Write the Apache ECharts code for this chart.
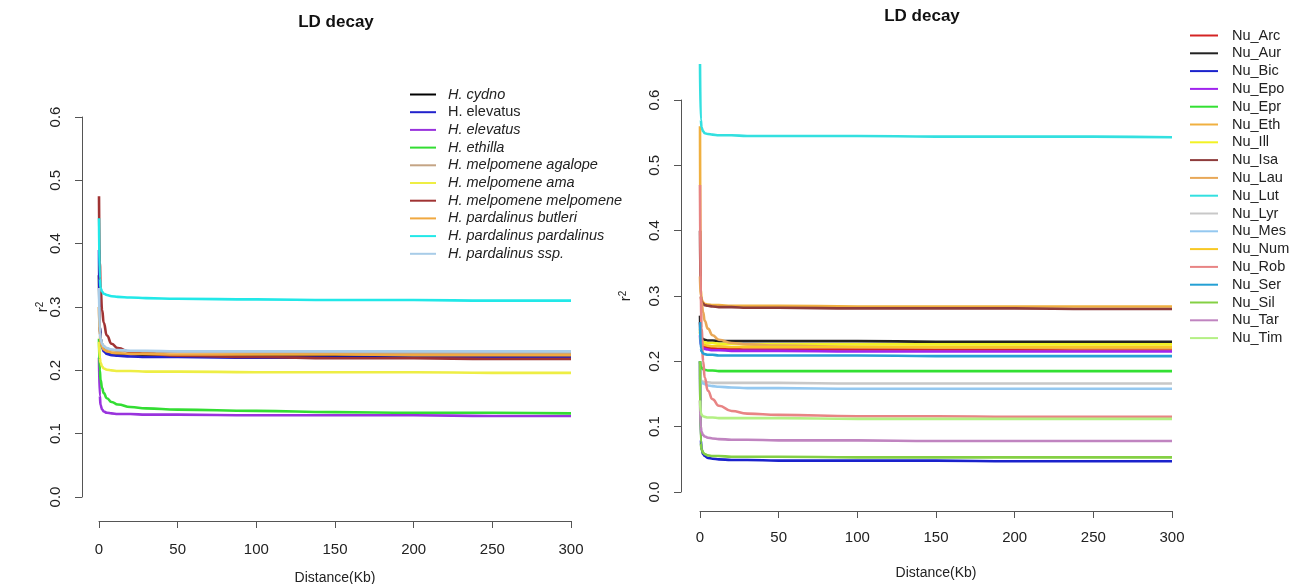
<!DOCTYPE html>
<html>
<head>
<meta charset="utf-8">
<title>LD decay</title>
<script src="https://cdn.jsdelivr.net/npm/echarts@6/dist/echarts.min.js"></script>
<style>
  html, body { margin: 0; padding: 0; background: #fff; }
  #chart { width: 1296px; height: 584px; }
</style>
</head>
<body>
<div id="chart"></div>
<script>
// distance in Kb (shared by every curve)
const distances = [0, 0.5, 1, 2, 3, 5, 8, 12, 20, 30, 50, 100, 150, 200, 250, 300]
const xTicks = [0, 50, 100, 150, 200, 250, 300]
const yTicks = [0.0, 0.1, 0.2, 0.3, 0.4, 0.5, 0.6]

// left panel: Heliconius species
const leftNames = ['H. cydno', 'H. elevatus', 'H. elevatus\u200b', 'H. ethilla', 'H. melpomene agalope',
  'H. melpomene ama', 'H. melpomene melpomene', 'H. pardalinus butleri', 'H. pardalinus pardalinus', 'H. pardalinus ssp.']
const leftItalic = [true, false, true, true, true, true, true, true, true, true]
const leftColors = ['#000000', '#2222cc', '#9933dd', '#33dd33', '#c4a484', '#eeee44', '#a03333', '#f0a840', '#22e8e8', '#a8cce8']
const cydno = [0.35, 0.27, 0.25, 0.238, 0.233, 0.229, 0.227, 0.226, 0.225, 0.224, 0.223, 0.222, 0.222, 0.221, 0.221, 0.221]
const elevatusBlue = [0.39, 0.27, 0.25, 0.236, 0.23, 0.226, 0.224, 0.223, 0.222, 0.221, 0.221, 0.22, 0.22, 0.22, 0.22, 0.22]
const elevatusPurple = [0.22, 0.16, 0.145, 0.138, 0.135, 0.133, 0.132, 0.131, 0.131, 0.13, 0.13, 0.129, 0.129, 0.129, 0.128, 0.128]
const ethilla = [0.25, 0.2, 0.185, 0.172, 0.164, 0.156, 0.15, 0.146, 0.142, 0.14, 0.138, 0.136, 0.134, 0.133, 0.133, 0.132]
const agalope = [0.3, 0.26, 0.25, 0.242, 0.238, 0.234, 0.232, 0.231, 0.23, 0.229, 0.229, 0.228, 0.228, 0.228, 0.228, 0.228]
const ama = [0.245, 0.22, 0.212, 0.206, 0.203, 0.201, 0.2, 0.199, 0.199, 0.198, 0.198, 0.197, 0.197, 0.197, 0.196, 0.196]
const melpomene = [0.475, 0.37, 0.33, 0.295, 0.275, 0.255, 0.242, 0.235, 0.229, 0.226, 0.223, 0.221, 0.219, 0.219, 0.218, 0.218]
const butleri = [0.3, 0.255, 0.245, 0.237, 0.233, 0.23, 0.228, 0.227, 0.226, 0.226, 0.225, 0.225, 0.225, 0.224, 0.224, 0.224]
const pardalinus = [0.44, 0.345, 0.33, 0.324, 0.321, 0.319, 0.317, 0.316, 0.315, 0.314, 0.313, 0.312, 0.311, 0.311, 0.31, 0.31]
const pardSsp = [0.33, 0.26, 0.25, 0.242, 0.238, 0.235, 0.233, 0.232, 0.231, 0.231, 0.23, 0.23, 0.23, 0.23, 0.23, 0.23]
const leftValues = [cydno, elevatusBlue, elevatusPurple, ethilla, agalope, ama, melpomene, butleri, pardalinus, pardSsp]

// right panel: Nu populations
const rightNames = ['Nu_Arc', 'Nu_Aur', 'Nu_Bic', 'Nu_Epo', 'Nu_Epr', 'Nu_Eth', 'Nu_Ill', 'Nu_Isa', 'Nu_Lau',
  'Nu_Lut', 'Nu_Lyr', 'Nu_Mes', 'Nu_Num', 'Nu_Rob', 'Nu_Ser', 'Nu_Sil', 'Nu_Tar', 'Nu_Tim']
const rightColors = ['#d42424', '#222222', '#1a22cc', '#a024ee', '#33e033', '#f0b040', '#f2f224', '#8e3c3c', '#e8a858',
  '#33e0e0', '#c8c8c8', '#94c8f0', '#f8c824', '#e88484', '#24a0d4', '#84d044', '#c084c0', '#b4f084']
const arc = [0.26, 0.235, 0.228, 0.224, 0.222, 0.221, 0.22, 0.219, 0.219, 0.218, 0.218, 0.218, 0.218, 0.218, 0.218, 0.218]
const aur = [0.27, 0.24, 0.236, 0.234, 0.233, 0.232, 0.232, 0.231, 0.231, 0.231, 0.231, 0.231, 0.23, 0.23, 0.23, 0.23]
const bic = [0.2, 0.08, 0.065, 0.058, 0.055, 0.052, 0.051, 0.05, 0.049, 0.049, 0.048, 0.048, 0.048, 0.047, 0.047, 0.047]
const epo = [0.24, 0.225, 0.222, 0.22, 0.219, 0.218, 0.217, 0.217, 0.216, 0.216, 0.216, 0.215, 0.215, 0.215, 0.215, 0.215]
const epr = [0.2, 0.192, 0.19, 0.188, 0.187, 0.186, 0.186, 0.185, 0.185, 0.185, 0.185, 0.185, 0.185, 0.185, 0.185, 0.185]
const eth = [0.56, 0.31, 0.295, 0.29, 0.288, 0.287, 0.286, 0.286, 0.285, 0.285, 0.285, 0.284, 0.284, 0.284, 0.284, 0.284]
const ill = [0.245, 0.235, 0.232, 0.23, 0.229, 0.228, 0.228, 0.227, 0.227, 0.226, 0.226, 0.226, 0.226, 0.226, 0.226, 0.226]
const isa = [0.4, 0.3, 0.292, 0.288, 0.286, 0.285, 0.284, 0.283, 0.283, 0.282, 0.282, 0.281, 0.281, 0.281, 0.28, 0.28]
const lau = [0.33, 0.3, 0.29, 0.275, 0.262, 0.25, 0.24, 0.233, 0.228, 0.226, 0.224, 0.222, 0.221, 0.221, 0.22, 0.22]
const lut = [0.655, 0.57, 0.558, 0.552, 0.549, 0.548, 0.547, 0.546, 0.546, 0.545, 0.545, 0.545, 0.544, 0.544, 0.544, 0.543]
const lyr = [0.18, 0.172, 0.17, 0.169, 0.168, 0.168, 0.167, 0.167, 0.167, 0.167, 0.167, 0.166, 0.166, 0.166, 0.166, 0.166]
const mes = [0.175, 0.17, 0.168, 0.166, 0.165, 0.163, 0.162, 0.161, 0.16, 0.159, 0.159, 0.158, 0.158, 0.158, 0.158, 0.158]
const num = [0.25, 0.232, 0.228, 0.226, 0.225, 0.224, 0.223, 0.223, 0.222, 0.222, 0.222, 0.222, 0.222, 0.222, 0.222, 0.222]
const rob = [0.47, 0.3, 0.25, 0.2, 0.175, 0.155, 0.142, 0.132, 0.124, 0.12, 0.118, 0.116, 0.116, 0.115, 0.115, 0.115]
const ser = [0.26, 0.22, 0.215, 0.212, 0.211, 0.21, 0.21, 0.209, 0.209, 0.209, 0.209, 0.209, 0.208, 0.208, 0.208, 0.208]
const sil = [0.2, 0.075, 0.065, 0.06, 0.058, 0.056, 0.055, 0.055, 0.054, 0.054, 0.054, 0.053, 0.053, 0.053, 0.053, 0.053]
const tar = [0.14, 0.1, 0.092, 0.087, 0.085, 0.083, 0.082, 0.081, 0.08, 0.08, 0.079, 0.079, 0.078, 0.078, 0.078, 0.078]
const tim = [0.14, 0.122, 0.118, 0.116, 0.115, 0.114, 0.114, 0.113, 0.113, 0.113, 0.113, 0.112, 0.112, 0.112, 0.112, 0.112]
const rightValues = [arc, aur, bic, epo, epr, eth, ill, isa, lau, lut, lyr, mes, num, rob, ser, sil, tar, tim]

const font = '"Liberation Sans", Arial, Helvetica, sans-serif'

// R style axes: line only from first to last tick, pushed away from the data
function makeXAxis(gridIndex, offset, labelMargin, nameGap) {
  return {
    type: 'value', gridIndex, min: xTicks[0], max: xTicks[xTicks.length - 1], interval: 50, offset,
    name: 'Distance(Kb)', nameLocation: 'middle', nameGap, nameMoveOverlap: false,
    nameTextStyle: { fontFamily: font, fontSize: 14, color: '#222' },
    axisLine: { show: true, onZero: false, lineStyle: { color: '#555', width: 1 } },
    axisTick: { show: true, length: 7, lineStyle: { color: '#555' } },
    axisLabel: { fontFamily: font, fontSize: 15, color: '#222', margin: labelMargin },
    splitLine: { show: false }
  }
}
function makeYAxis(gridIndex, offset, nameGap) {
  return {
    type: 'value', gridIndex, min: yTicks[0], max: yTicks[yTicks.length - 1], interval: 0.1, offset,
    name: 'r{s|2}', nameLocation: 'middle', nameGap, nameMoveOverlap: false,
    nameTextStyle: { fontFamily: font, fontSize: 15, color: '#222',
      rich: { s: { fontFamily: font, fontSize: 10, color: '#222', verticalAlign: 'top', lineHeight: 16 } } },
    axisLine: { show: true, onZero: false, lineStyle: { color: '#555', width: 1 } },
    axisTick: { show: true, length: 7, lineStyle: { color: '#555' } },
    axisLabel: { fontFamily: font, fontSize: 15, color: '#222', rotate: 90, margin: 19, formatter: v => v.toFixed(1) },
    splitLine: { show: false }
  }
}

function makeSeries(names, values, colors, idx) {
  return names.map((name, i) => ({
    name,
    type: 'line',
    xAxisIndex: idx,
    yAxisIndex: idx,
    data: distances.map((d, j) => [d, values[i][j]]),
    showSymbol: false,
    smooth: true,
    smoothMonotone: 'x',
    clip: false,
    color: colors[i],
    lineStyle: { width: 2.6, color: colors[i] }
  }))
}

const chart = echarts.init(document.getElementById('chart'))
chart.setOption({
  animation: false,
  backgroundColor: '#fff',
  title: [
    { text: 'LD decay', left: 336, top: 14, padding: 0, textAlign: 'center',
      textStyle: { fontFamily: font, fontSize: 17, fontWeight: 'bold', color: '#111' } },
    { text: 'LD decay', left: 922, top: 8, padding: 0, textAlign: 'center',
      textStyle: { fontFamily: font, fontSize: 17, fontWeight: 'bold', color: '#111' } }
  ],
  legend: [
    {
      left: 410, top: 87, padding: 0, orient: 'vertical', icon: 'rect', itemWidth: 26, itemHeight: 2, itemGap: 2.7,
      textStyle: { fontFamily: font, fontSize: 14.5, color: '#222', lineHeight: 15, padding: [0, 0, 0, 7] },
      data: leftNames.map((n, i) => ({ name: n, textStyle: { fontStyle: leftItalic[i] ? 'italic' : 'normal' } }))
    },
    {
      left: 1190, top: 28, padding: 0, orient: 'vertical', icon: 'rect', itemWidth: 28, itemHeight: 2, itemGap: 2.8,
      textStyle: { fontFamily: font, fontSize: 14.5, color: '#222', lineHeight: 15, padding: [0, 0, 0, 9] },
      data: rightNames
    }
  ],
  grid: [
    { left: 99, top: 117, width: 472, height: 380, outerBoundsMode: 'none' },
    { left: 700, top: 100, width: 472, height: 392, outerBoundsMode: 'none' }
  ],
  xAxis: [makeXAxis(0, 24, 21, 50), makeXAxis(1, 19, 19, 55)],
  yAxis: [makeYAxis(0, 17, 31), makeYAxis(1, 19, 47)],
  series: makeSeries(leftNames, leftValues, leftColors, 0).concat(makeSeries(rightNames, rightValues, rightColors, 1))
})
</script>
</body>
</html>
